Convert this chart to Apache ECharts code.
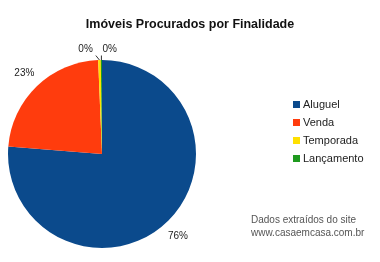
<!DOCTYPE html>
<html><head><meta charset="utf-8">
<script src="https://cdn.jsdelivr.net/npm/echarts@6/dist/echarts.min.js"></script>
<style>html,body{margin:0;padding:0;background:#fff}#c{width:380px;height:262px}</style>
</head><body><div id="c"></div>
<script>
var categories = ['Aluguel', 'Venda', 'Temporada', 'Lançamento'];
var values = [76, 23, 0.45, 0.2];
var colors = ['#0b4a8c', '#ff3c0d', '#ffe000', '#1f9a1f'];
var titleText = 'Imóveis Procurados por Finalidade';
var sourceLines = ['Dados extraídos do site', 'www.casaemcasa.com.br'];

var chart = echarts.init(document.getElementById('c'), null, {renderer: 'canvas'});
var data = categories.map(function (c, i) {
  var small = values[i] < 5;
  return {name: c, value: values[i], itemStyle: {color: colors[i]},
    labelLine: small ? {show: true, length: 6, length2: 3} : {show: false}};
});
chart.setOption({
  animation: false,
  title: {text: titleText, left: 'center', top: 13,
    textStyle: {fontFamily: 'Arial, Liberation Sans', fontSize: 12.5, fontWeight: 'bold', color: '#111'}},
  legend: {orient: 'vertical', left: 288, top: 94, itemWidth: 7, itemHeight: 7, itemGap: 7,
    icon: 'rect', textStyle: {fontFamily: 'Arial, Liberation Sans', fontSize: 11, color: '#222', padding: [0,0,0,-2]},
    data: categories},
  graphic: [
    {type: 'text', left: 251, top: 214, style: {text: sourceLines[0] + '\n' + sourceLines[1], font: '10px Arial, Liberation Sans', fill: '#555', align: 'center', lineHeight: 13}}
  ],
  series: [{
    type: 'pie', center: [102, 154], radius: 94, startAngle: 90, clockwise: true,
    avoidLabelOverlap: false,
    data: data,
    label: {show: true, position: 'outside', distanceToLabelLine: 0, fontFamily: 'Arial, Liberation Sans', fontSize: 10, color: '#222',
      formatter: function (p) { return Math.round(p.percent) + '%'; }},
    labelLine: {length: 18, length2: 0, lineStyle: {color: '#333', width: 1}},
    labelLayout: function (p) {
      var r = p.labelRect;
      if (p.dataIndex === 2 || p.dataIndex === 3) {
        var left = p.dataIndex === 2;
        var dx = left ? -3.5 : 18.5, dy = -4.5;
        var apex = p.labelLinePoints[0];
        var end = left ? [r.x + r.width + dx + 3, r.y + r.height + dy + 1]
                       : [r.x + dx - 1, r.y + r.height + dy + 1];
        return {dx: dx, dy: dy, labelLinePoints: [apex, end, end]};
      }
      var w = r.width / 2;
      return {dx: r.x < 102 ? w : -w};
    }
  }]
});
</script></body></html>
